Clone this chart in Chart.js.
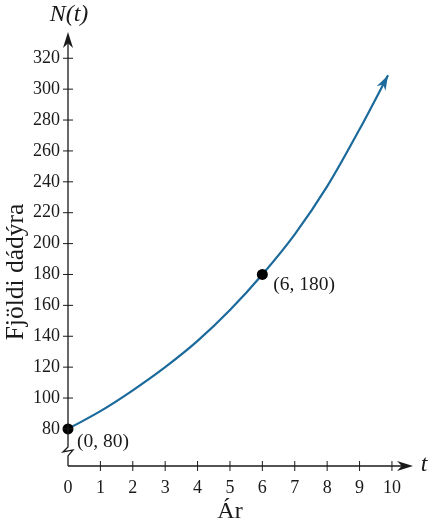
<!DOCTYPE html>
<html>
<head>
<meta charset="utf-8">
<script src="https://cdn.jsdelivr.net/npm/chart.js@4.4.1/dist/chart.umd.min.js"></script>
<style>
html,body{margin:0;padding:0;background:#fff;}
#wrap{width:430px;height:524px;position:relative;}
</style>
</head>
<body>
<div id="wrap"><canvas id="c" width="430" height="524"></canvas></div>
<script>
// Data
const years = [0, 1, 2, 3, 4, 5, 6, 7, 8, 9, 9.88];
const deer = [80, 91.5, 105, 120, 137, 157, 180, 206, 237, 274, 309];
const markedYears = [0, 6];
const markedDeer = [80, 180];
const markedLabels = ['(0, 80)', '(6, 180)'];
const xTicks = [0, 1, 2, 3, 4, 5, 6, 7, 8, 9, 10];
const yTicks = [80, 100, 120, 140, 160, 180, 200, 220, 240, 260, 280, 300, 320];
const xTitle = 'Ár';
const yTitle = 'Fjöldi dádýra';
const yAxisName = 'N(t)';
const xAxisName = 't';

const SERIF = "'Liberation Serif', 'DejaVu Serif', serif";
const CURVE = '#1b6a9b';
const INK = '#1a1a1a';
Chart.defaults.font.family = SERIF;

function arrowHead(ctx, tipX, tipY, angle, len, half, color) {
  ctx.save();
  ctx.translate(tipX, tipY);
  ctx.rotate(angle);
  ctx.fillStyle = color;
  ctx.beginPath();
  ctx.moveTo(0, 0);
  ctx.lineTo(-len, -half);
  ctx.lineTo(-len * 0.7, 0);
  ctx.lineTo(-len, half);
  ctx.closePath();
  ctx.fill();
  ctx.restore();
}

const decor = {
  id: 'decor',
  afterDatasetsDraw(chart) {
    const ctx = chart.ctx;
    const xs = chart.scales.x, ys = chart.scales.y;
    const x0 = xs.getPixelForValue(0);
    const yBase = chart.chartArea.bottom;
    const yTop = chart.chartArea.top;
    const xRight = chart.chartArea.right;
    const y80 = ys.getPixelForValue(80);
    ctx.save();
    ctx.strokeStyle = INK;
    ctx.lineWidth = 1.3;
    // y-axis with break
    ctx.beginPath();
    ctx.moveTo(x0, yTop + 10);
    ctx.lineTo(x0, y80 + 18);
    ctx.lineTo(x0 - 5, y80 + 23);
    ctx.lineTo(x0 + 5, y80 + 21);
    ctx.lineTo(x0, y80 + 27);
    ctx.lineTo(x0, yBase);
    ctx.stroke();
    // x-axis
    ctx.beginPath();
    ctx.moveTo(x0, yBase);
    ctx.lineTo(xRight - 8, yBase);
    ctx.stroke();
    // tick marks
    ctx.lineWidth = 1;
    yTicks.forEach(v => {
      const p = ys.getPixelForValue(v);
      ctx.beginPath();
      ctx.moveTo(x0 - 5, p);
      ctx.lineTo(x0 + 5, p);
      ctx.stroke();
    });
    xTicks.forEach(v => {
      if (v === 0) return;
      const p = xs.getPixelForValue(v);
      ctx.beginPath();
      ctx.moveTo(p, yBase - 5);
      ctx.lineTo(p, yBase + 5);
      ctx.stroke();
    });
    // axis arrows
    arrowHead(ctx, x0, yTop, -Math.PI / 2, 16, 5, INK);
    arrowHead(ctx, xRight, yBase, 0, 16, 5, INK);

    // curve arrow
    const meta = chart.getDatasetMeta(0);
    const pts = meta.data;
    const a = pts[pts.length - 2], b = pts[pts.length - 1];
    const ang = Math.atan2(b.y - a.y, b.x - a.x);
    arrowHead(ctx, b.x, b.y, ang, 15, 5, CURVE);

    // text
    ctx.fillStyle = INK;
    ctx.textAlign = 'center';
    ctx.textBaseline = 'middle';
    ctx.font = 'italic 24px ' + SERIF;
    ctx.fillText(yAxisName, x0 + 1, 15);
    ctx.fillText(xAxisName, 424, yBase - 1);
    ctx.font = '24px ' + SERIF;
    ctx.fillText(xTitle, 230, 512);
    ctx.save();
    ctx.translate(16, 272);
    ctx.rotate(-Math.PI / 2);
    ctx.font = '25.5px ' + SERIF;
    ctx.fillText(yTitle, 0, 0);
    ctx.restore();
    ctx.font = '19.5px ' + SERIF;
    ctx.textAlign = 'left';
    ctx.fillText(markedLabels[0], xs.getPixelForValue(markedYears[0]) + 9, ys.getPixelForValue(markedDeer[0]) + 13);
    ctx.fillText(markedLabels[1], xs.getPixelForValue(markedYears[1]) + 11, ys.getPixelForValue(markedDeer[1]) + 10);
    ctx.restore();
  }
};

new Chart(document.getElementById('c'), {
  type: 'scatter',
  data: {
    datasets: [
      {
        data: years.map((t, i) => ({x: t, y: deer[i]})),
        showLine: true,
        borderColor: CURVE,
        borderWidth: 2.2,
        pointRadius: 0,
        tension: 0.4,
        cubicInterpolationMode: 'monotone',
        fill: false,
        order: 2
      },
      {
        data: markedYears.map((t, i) => ({x: t, y: markedDeer[i]})),
        showLine: false,
        pointRadius: 5.5,
        backgroundColor: '#000',
        borderColor: '#000',
        borderWidth: 0,
        order: 1
      }
    ]
  },
  options: {
    responsive: false,
    animation: false,
    devicePixelRatio: 1,
    clip: false,
    layout: {padding: {top: 32, right: 17, left: 0, bottom: 0}},
    plugins: {legend: {display: false}, tooltip: {enabled: false}},
    scales: {
      x: {
        type: 'linear',
        min: 0,
        max: 10.65,
        afterFit(s) { s.height = 58; },
        afterBuildTicks(s) { s.ticks = xTicks.map(v => ({value: v})); },
        grid: {display: false, drawTicks: false},
        border: {display: false},
        ticks: {
          padding: 11,
          color: INK,
          font: {family: SERIF, size: 18},
          maxRotation: 0,
          autoSkip: false,
          callback: v => String(v)
        }
      },
      y: {
        type: 'linear',
        min: 56,
        max: 337,
        afterFit(s) { s.width = 68; },
        afterBuildTicks(s) { s.ticks = yTicks.map(v => ({value: v})); },
        grid: {display: false, drawTicks: false},
        border: {display: false},
        ticks: {
          padding: 8,
          color: INK,
          font: {family: SERIF, size: 18},
          autoSkip: false,
          callback: v => String(v)
        }
      }
    }
  },
  plugins: [decor]
});
</script>
</body>
</html>
